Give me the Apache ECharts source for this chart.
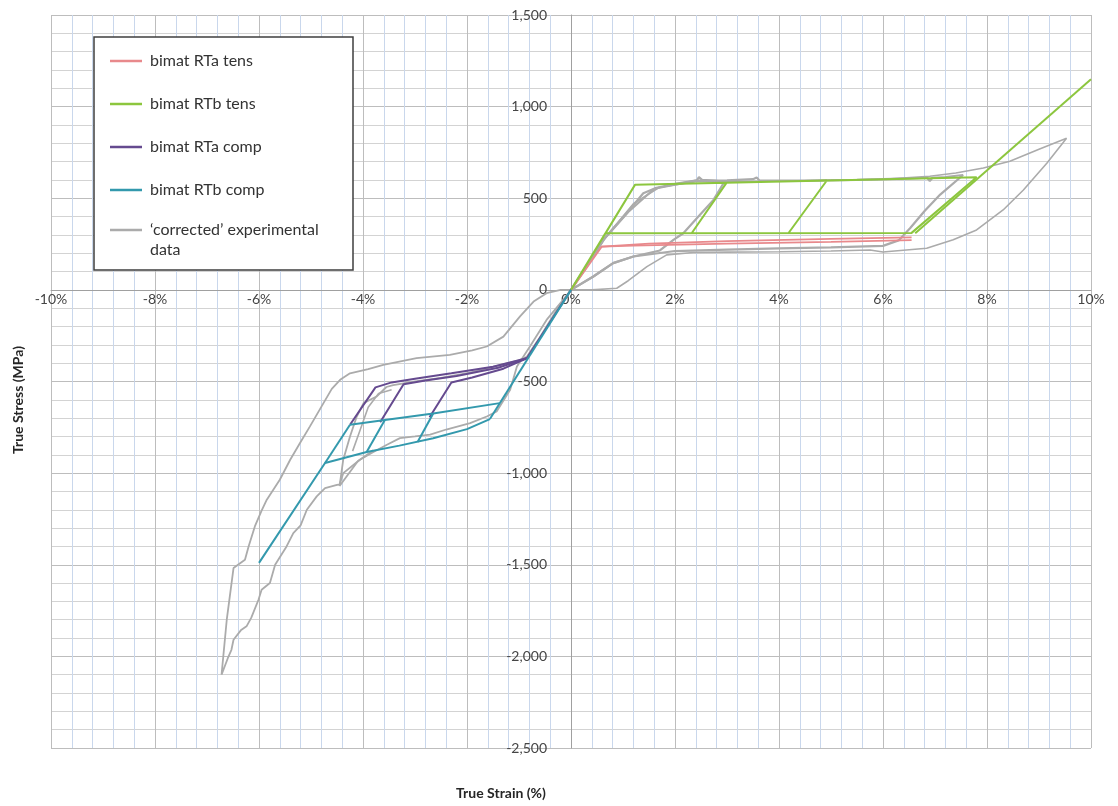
<!DOCTYPE html>
<html>
<head>
<meta charset="utf-8">
<script src="https://cdn.jsdelivr.net/npm/echarts/dist/echarts.min.js"></script>
<style>html,body{margin:0;padding:0;background:#fff}#c{width:1118px;height:806px}</style>
</head>
<body>
<div id="c"></div>
<script>
// ---- axis ranges ----
const xRange = [-10, 10, 2];        // true strain, %
const yRange = [-2500, 1500, 500];  // true stress, MPa
const xTitle = 'True Strain (%)';
const yTitle = 'True Stress (MPa)';
const legendNames = ['bimat RTa tens', 'bimat RTb tens', 'bimat RTa comp', 'bimat RTb comp', '\u2018corrected\u2019 experimental\ndata'];

// ---- 'corrected' experimental data (grey) ----
const expTensA = [[0,0],[0.4,0],[0.88,9],[1.1,50],[1.46,127],[1.84,191],[2.35,204],[3,206],[4,208],[5,212],[5.75,218],[6.0,207],[6.84,227],[7.35,273],[7.8,327],[8.31,436],[8.7,545],[9.15,691],[9.53,827],[9.0,768],[8.44,702],[7.93,665],[7.4,638],[6.9,620],[6,604],[5,598],[4,594],[3,590],[2.4,590],[1.7,560],[1.2,470],[0.7,300],[0.3,125],[0,0]];
const expTensB = [[0,0],[0.3,125],[0.62,273],[1.07,418],[1.39,527],[1.62,555],[2.0,578],[2.42,598],[2.46,615],[2.52,600],[2.75,596],[2.95,590],[2.74,491],[2.45,400],[2.16,309],[1.97,273],[1.71,215],[1.2,182],[0.81,146],[0.43,73],[0,0]];
const expTensC = [[0,0],[0.6,265],[1.1,425],[1.6,552],[2.4,596],[3.0,598],[3.5,604],[3.57,613],[3.62,598],[4.5,596],[5.5,600],[6.5,608],[6.85,612],[6.9,593],[6.95,612],[7.2,616],[7.54,627],[7.1,520],[6.8,430],[6.52,336],[6.3,270],[6.0,240],[5.0,232],[4.0,226],[3.0,220],[2.0,212],[1.2,182],[0.81,146],[0.43,73],[0,0]];
const expCompA = [[0,0],[-0.1,-36],[-0.47,-164],[-0.79,-309],[-1.04,-418],[-1.17,-545],[-1.43,-664],[-1.62,-691],[-1.94,-727],[-2.4,-762],[-2.71,-790],[-3.0,-800],[-3.29,-809],[-3.54,-845],[-3.8,-885],[-4.06,-927],[-4.38,-1000],[-4.45,-1062],[-4.5,-1064],[-4.73,-1082],[-4.89,-1127],[-5.08,-1200],[-5.2,-1285],[-5.34,-1327],[-5.47,-1400],[-5.69,-1500],[-5.79,-1600],[-5.95,-1636],[-6.01,-1691],[-6.15,-1790],[-6.24,-1836],[-6.35,-1858],[-6.49,-1909],[-6.53,-1964],[-6.6,-2010],[-6.72,-2100],[-6.62,-1800],[-6.49,-1518],[-6.27,-1473],[-6.2,-1400],[-6.08,-1291],[-5.95,-1205],[-5.85,-1145],[-5.6,-1036],[-5.4,-927],[-5.2,-830],[-5.02,-745],[-4.76,-618],[-4.6,-540],[-4.44,-491],[-4.25,-455],[-3.9,-432],[-3.61,-409],[-2.97,-373],[-2.33,-355],[-1.9,-330],[-1.62,-309],[-1.3,-255],[-0.98,-145],[-0.72,-64],[-0.47,-18],[-0.2,0],[0,0]];
const expCompB = [[-3.8,-875],[-4.1,-935],[-4.45,-1070],[-4.38,-927],[-4.25,-800],[-4.12,-691],[-3.99,-618],[-3.74,-582],[-3.55,-530],[-3.42,-520],[-3.0,-500],[-2.5,-480],[-2.0,-455],[-1.5,-420],[-1.0,-385],[-0.85,-365],[-0.6,-260],[-0.3,-120],[0,0]];
const expCompC = [[-4.2,-880],[-4.05,-760],[-3.9,-640],[-3.7,-565],[-3.45,-545]];

// ---- bimat RTa tens (red) ----
const rtaTens1 = [[0,0],[0.59,236],[1.5,252],[3,266],[5,278],[6.55,287]];
const rtaTens2 = [[0.59,236],[1.2,242],[3,252],[5,262],[6.55,272]];

// ---- bimat RTb tens (green) ----
const rtbTens = [[0,0],[1.23,573],[2.99,584],[2.32,309],[0.66,309],[0,0],[1.23,573],[4.92,597],[4.18,309],[0.66,309],[0,0],[1.23,573],[7.8,615],[6.55,311],[0.66,309]];
const rtbTensFinal = [[6.62,309],[10,1150]];

// ---- bimat RTa comp (purple) ----
const rtaComp1 = [[0,0],[-0.85,-373],[-1.3,-430],[-1.9,-478],[-2.3,-505],[-2.72,-695]];
const rtaComp2 = [[-0.85,-373],[-1.4,-425],[-2.2,-470],[-2.8,-495],[-3.22,-515],[-3.67,-722]];
const rtaComp3 = [[-0.85,-373],[-1.5,-420],[-2.3,-455],[-3.0,-485],[-3.45,-505],[-3.76,-532],[-4.25,-736]];

// ---- bimat RTb comp (teal) ----
const rtbCompElastic = [[0,0],[-1.56,-705]];
const rtbCompUpper = [[-1.37,-618],[-2.65,-675],[-3.58,-710],[-4.25,-736]];
const rtbCompLower = [[-1.56,-705],[-2.0,-760],[-2.65,-810],[-3.3,-850],[-3.93,-885],[-4.73,-945],[-6.0,-1490]];
const rtbCompUnload1 = [[-4.73,-945],[-4.25,-736]];
const rtbCompUnload2 = [[-3.93,-885],[-3.58,-710]];
const rtbCompUnload3 = [[-2.95,-830],[-2.65,-675]];

// ---- colours ----
const C_RED = '#e8898c', C_GREEN = '#8cc63e', C_PURPLE = '#654a8f', C_TEAL = '#3399ad', C_GREY = '#ababab';
const FONT = 'Lato, "Open Sans", sans-serif';

// ---- layout ----
const W = 1118, H = 806;
const G = { left: 51, right: 27, top: 15, bottom: 58 };
const plotW = W - G.left - G.right, plotH = H - G.top - G.bottom;
// axes cross at the origin: shift the axis lines/labels onto x = 0 and y = 0
const xAxisOffset = -plotH * (0 - yRange[0]) / (yRange[1] - yRange[0]);
const yAxisOffset = -plotW * (0 - xRange[0]) / (xRange[1] - xRange[0]);

function ser(name, data, color, width) {
  return { name: name, type: 'line', data: data, symbol: 'none', showSymbol: false,
    lineStyle: { color: color, width: width }, itemStyle: { color: color },
    animation: false, silent: true, clip: true };
}

const series = [
  ser(legendNames[4], expTensA, C_GREY, 1.6),
  ser(legendNames[4], expTensB, C_GREY, 2.2),
  ser(legendNames[4], expTensC, C_GREY, 2.2),
  ser(legendNames[4], expCompA, C_GREY, 1.8),
  ser(legendNames[4], expCompB, C_GREY, 1.8),
  ser(legendNames[4], expCompC, C_GREY, 1.6),
  ser(legendNames[0], rtaTens1, C_RED, 1.8),
  ser(legendNames[0], rtaTens2, C_RED, 1.8),
  ser(legendNames[1], rtbTens, C_GREEN, 2),
  ser(legendNames[1], rtbTensFinal, C_GREEN, 2),
  ser(legendNames[2], rtaComp1, C_PURPLE, 2),
  ser(legendNames[2], rtaComp2, C_PURPLE, 2),
  ser(legendNames[2], rtaComp3, C_PURPLE, 2),
  ser(legendNames[3], rtbCompElastic, C_TEAL, 2),
  ser(legendNames[3], rtbCompUpper, C_TEAL, 2),
  ser(legendNames[3], rtbCompLower, C_TEAL, 2),
  ser(legendNames[3], rtbCompUnload1, C_TEAL, 2),
  ser(legendNames[3], rtbCompUnload2, C_TEAL, 2),
  ser(legendNames[3], rtbCompUnload3, C_TEAL, 2)
];

// legend drawn as a boxed key
const legendColors = [C_RED, C_GREEN, C_PURPLE, C_TEAL, C_GREY];
const legendRows = [61, 104, 147, 190, 230];
const legendEls = [{ type: 'rect', shape: { x: 94, y: 37, width: 259, height: 233 },
  style: { fill: '#fff', stroke: '#3f3f3f', lineWidth: 1.5 }, z: 100 }];
legendNames.forEach(function (n, i) {
  legendEls.push({ type: 'line', shape: { x1: 110, y1: legendRows[i], x2: 142, y2: legendRows[i] },
    style: { stroke: legendColors[i], lineWidth: 2.5 }, z: 101 });
  legendEls.push({ type: 'text', x: 150, y: legendRows[i] - 10,
    style: { text: n, fill: '#333333', font: '16px ' + FONT, lineHeight: 20, verticalAlign: 'top' }, z: 101 });
});

const option = {
  backgroundColor: '#fff',
  animation: false,
  grid: { left: G.left, right: G.right, top: G.top, bottom: G.bottom, containLabel: false },
  xAxis: {
    type: 'value', min: xRange[0], max: xRange[1], interval: xRange[2],
    position: 'bottom', offset: xAxisOffset,
    axisLine: { onZero: false, lineStyle: { color: '#a0a0a0', width: 1 } },
    axisTick: { show: false },
    axisLabel: { formatter: '{value}%', color: '#454545', fontSize: 14, fontFamily: FONT, margin: 3 },
    splitLine: { show: true, lineStyle: { color: '#bdbdbd', width: 1 } },
    minorTick: { show: false, splitNumber: 5 },
    minorSplitLine: { show: true, lineStyle: { color: '#c9d7ec', width: 1 } }
  },
  yAxis: {
    type: 'value', min: yRange[0], max: yRange[1], interval: yRange[2],
    position: 'left', offset: yAxisOffset,
    axisLine: { onZero: false, lineStyle: { color: '#a0a0a0', width: 1 } },
    axisTick: { show: false },
    axisLabel: { formatter: function (v) { return v.toLocaleString('en-US'); }, color: '#454545', fontSize: 14, fontFamily: FONT, margin: 24 },
    splitLine: { show: true, lineStyle: { color: '#bdbdbd', width: 1 } },
    minorTick: { show: false, splitNumber: 5 },
    minorSplitLine: { show: true, lineStyle: { color: '#d3d3d3', width: 1 } }
  },
  series: series,
  graphic: legendEls.concat([
    { type: 'text', x: 501, y: 793, style: { text: xTitle, fill: '#262626', font: 'bold 14px ' + FONT, align: 'center', verticalAlign: 'middle' } },
    { type: 'text', x: 18, y: 400, rotation: Math.PI / 2, style: { text: yTitle, fill: '#262626', font: 'bold 14px ' + FONT, align: 'center', verticalAlign: 'middle' } }
  ])
};

const chart = echarts.init(document.getElementById('c'), null, { renderer: 'canvas' });
chart.setOption(option);
</script>
</body>
</html>
